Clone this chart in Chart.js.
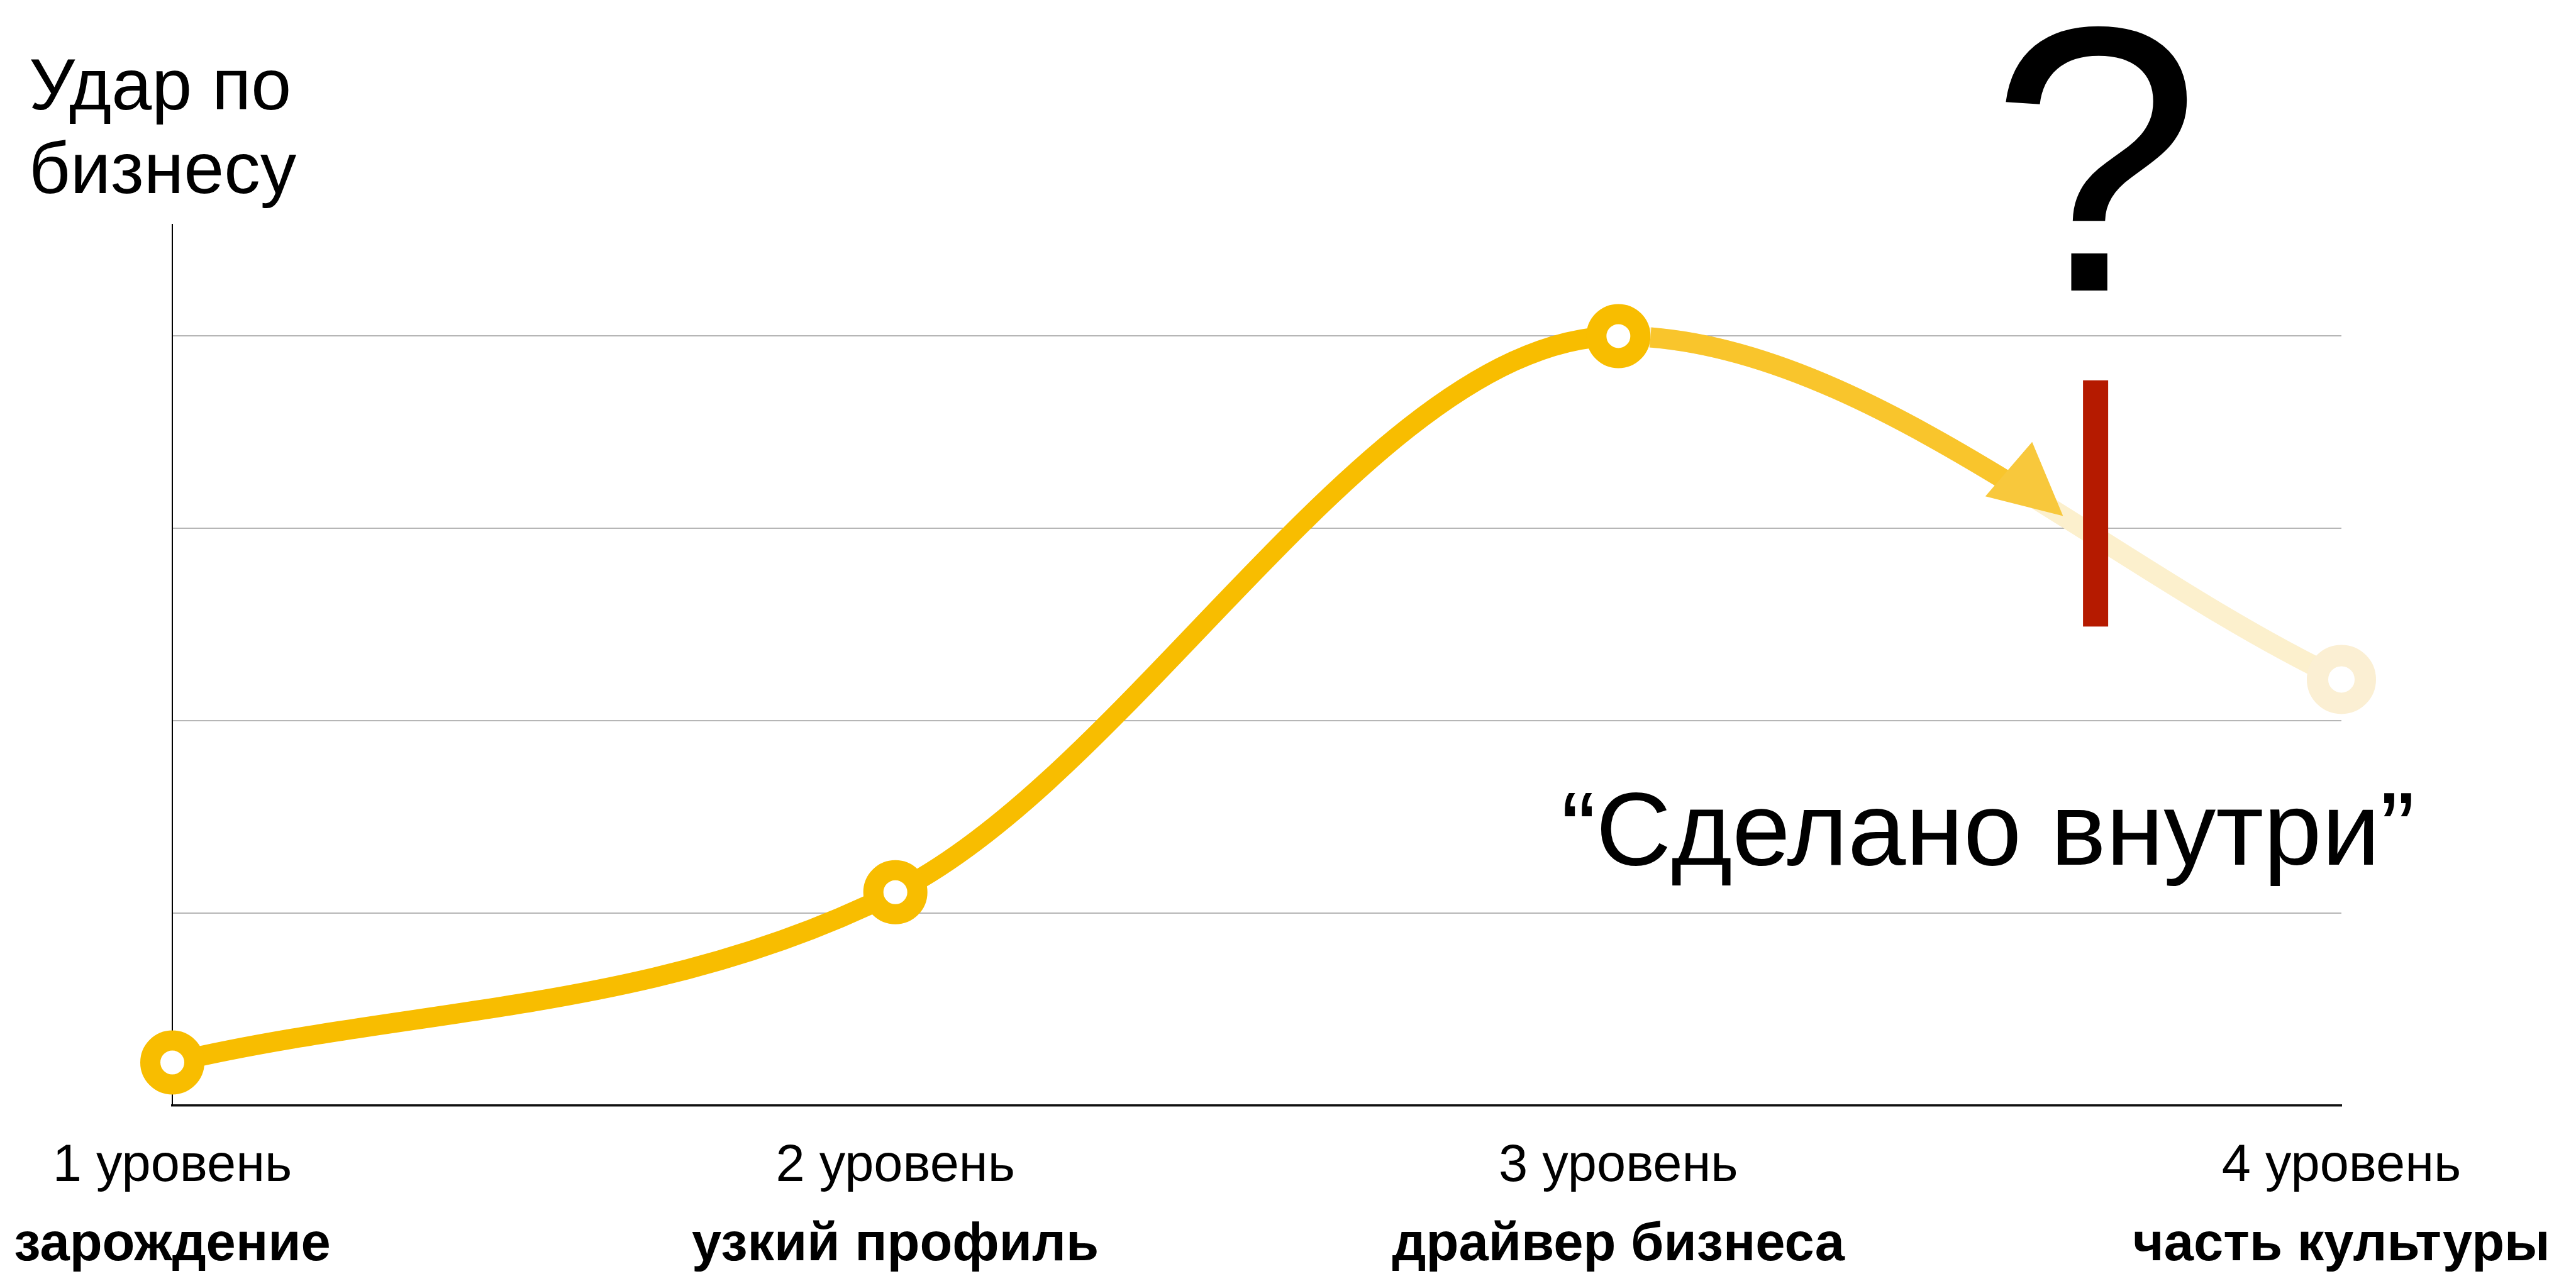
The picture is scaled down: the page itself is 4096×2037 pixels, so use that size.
<!DOCTYPE html>
<html>
<head>
<meta charset="utf-8">
<script src="https://cdn.jsdelivr.net/npm/chart.js@4.4.1/dist/chart.umd.min.js"></script>
<style>
  html, body { margin: 0; padding: 0; background: #fff; overflow: hidden; }
</style>
</head>
<body>
<canvas id="chart" width="4096" height="2037"></canvas>
<script>
// --- DATA ---
const levelLabels = ['1 уровень', '2 уровень', '3 уровень', '4 уровень'];
const stageNames = ['зарождение', 'узкий профиль', 'драйвер бизнеса', 'часть культуры'];
const impactValues = [0.224, 1.109, 4.0, 2.215];
const yMax = 4.58;

const peakIndex = 2;          // the segment after this point fades out
const arrowTipX = 2.615;      // where the arrow along the falling curve ends (category index)
const barX = 2.66;            // red "stop" bar
const barRange = [2.49, 3.77];

const titleLines = ['Удар по', 'бизнесу'];
const quoteText = '“Сделано внутри”';

// --- STYLE ---
const FONT = '"Liberation Sans", Arial, Helvetica, sans-serif';
const GOLD = '#F8BD00';
const PALE = '#FCF0CD';
const ARROW = '#F9C52C';
const ARROW_HEAD = '#F8C83C';
const RED = '#B51A00';

// small bezier helpers for the arrow drawn along the library's own curve
function lerp(p, q, t) { return { x: p.x + (q.x - p.x) * t, y: p.y + (q.y - p.y) * t }; }
function splitAt(c, t) {
    const [p0, p1, p2, p3] = c;
    const a = lerp(p0, p1, t), b = lerp(p1, p2, t), d = lerp(p2, p3, t);
    const e = lerp(a, b, t), f = lerp(b, d, t), g = lerp(e, f, t);
    return [[p0, a, e, g], [g, f, d, p3]];
}
function pointAt(c, t) { return splitAt(c, t)[0][3]; }
function subCurve(c, t0, t1) { return splitAt(splitAt(c, t1)[0], t0 / t1)[1]; }
function solveT(fn, target) {
    // bisection, fn increasing in t
    let lo = 0, hi = 1;
    for (let i = 0; i < 40; i++) {
        const mid = (lo + hi) / 2;
        if (fn(mid) < target) lo = mid; else hi = mid;
    }
    return (lo + hi) / 2;
}

const annotations = {
    id: 'annotations',
    afterDatasetsDraw(chart) {
        const { ctx, scales: { x, y } } = chart;
        const pts = chart.getDatasetMeta(0).data;
        const a = pts[peakIndex], b = pts[peakIndex + 1];
        const curve = [{ x: a.x, y: a.y }, { x: a.cp2x, y: a.cp2y }, { x: b.cp1x, y: b.cp1y }, { x: b.x, y: b.y }];

        const ds = chart.data.datasets[0];
        const outerR = ds.pointRadius[peakIndex] + ds.pointBorderWidth[peakIndex] / 2;
        const tStart = solveT(t => Math.hypot(pointAt(curve, t).x - a.x, pointAt(curve, t).y - a.y), outerR);
        const tTip = solveT(t => pointAt(curve, t).x, x.getPixelForValue(arrowTipX));

        // arrow head geometry
        const tip = pointAt(curve, tTip);
        const prev = pointAt(curve, tTip - 0.01);
        const ang = Math.atan2(tip.y - prev.y, tip.x - prev.x) + 0.15;
        const headLen = 114, headHalf = 57;
        const ux = Math.cos(ang), uy = Math.sin(ang);
        const base = { x: tip.x - ux * headLen, y: tip.y - uy * headLen };

        // shaft stops inside the head
        const tEnd = solveT(t => pointAt(curve, t).x, base.x + ux * 30);
        const shaft = subCurve(curve, tStart, tEnd);
        ctx.save();
        ctx.strokeStyle = ARROW;
        ctx.lineWidth = ds.borderWidth;
        ctx.lineCap = 'butt';
        ctx.beginPath();
        ctx.moveTo(shaft[0].x, shaft[0].y);
        ctx.bezierCurveTo(shaft[1].x, shaft[1].y, shaft[2].x, shaft[2].y, shaft[3].x, shaft[3].y);
        ctx.stroke();

        ctx.fillStyle = ARROW_HEAD;
        ctx.beginPath();
        ctx.moveTo(tip.x, tip.y);
        ctx.lineTo(base.x - uy * headHalf, base.y + ux * headHalf);
        ctx.lineTo(base.x + uy * headHalf, base.y - ux * headHalf);
        ctx.closePath();
        ctx.fill();

        // red bar
        const bx = x.getPixelForValue(barX);
        const top = y.getPixelForValue(barRange[1]);
        const bottom = y.getPixelForValue(barRange[0]);
        ctx.fillStyle = RED;
        ctx.fillRect(bx - 20, top, 40, bottom - top);
        ctx.restore();
    },
    afterDraw(chart) {
        const { ctx, scales: { x } } = chart;
        ctx.save();
        ctx.fillStyle = '#000';
        ctx.textBaseline = 'alphabetic';

        ctx.textAlign = 'left';
        ctx.font = '115px ' + FONT;
        ctx.fillText(titleLines[0], 46, 174);
        ctx.fillText(titleLines[1], 46, 307);

        ctx.textAlign = 'center';
        ctx.font = '602px ' + FONT;
        ctx.fillText('?', x.getPixelForValue(barX), 462);

        ctx.font = '166px ' + FONT;
        ctx.fillText(quoteText, 3161, 1375);
        ctx.restore();
    }
};

const ctx = document.getElementById('chart').getContext('2d');
const chart = new Chart(ctx, {
    type: 'line',
    data: {
        labels: levelLabels,
        datasets: [{
            data: impactValues,
            borderColor: GOLD,
            borderWidth: 32,
            cubicInterpolationMode: 'monotone',
            segment: {
                borderColor: c => c.p0DataIndex >= peakIndex ? PALE : GOLD
            },
            pointRadius: [35, 35, 35, 38],
            pointHoverRadius: [35, 35, 35, 38],
            pointBorderWidth: [32, 32, 32, 34],
            pointBackgroundColor: '#fff',
            pointBorderColor: impactValues.map((v, i) => i > peakIndex ? '#FBEFD3' : GOLD),
            fill: false,
            clip: false
        }]
    },
    options: {
        responsive: false,
        animation: false,
        events: [],
        layout: { padding: { left: 274, right: 373, top: 357, bottom: 0 } },
        plugins: { legend: { display: false }, tooltip: { enabled: false } },
        scales: {
            x: {
                type: 'category',
                grid: { display: false, drawTicks: false },
                border: { color: '#111', width: 3.5 },
                ticks: { color: '#000', font: { family: FONT, size: 83 }, padding: 47, maxRotation: 0, autoSkip: false },
                afterFit: s => { s.height = 162; }
            },
            x2: {
                type: 'category',
                position: 'bottom',
                labels: stageNames,
                grid: { display: false, drawTicks: false },
                border: { display: false },
                ticks: { color: '#000', font: { family: FONT, size: 85, weight: 'bold' }, padding: 10, maxRotation: 0, autoSkip: false },
                afterFit: s => { s.height = 117; }
            },
            y: {
                min: 0,
                max: yMax,
                ticks: { display: false, stepSize: 1 },
                grid: {
                    drawTicks: false,
                    lineWidth: 2,
                    color: c => (c.tick && c.tick.value > 0 && Number.isInteger(c.tick.value)) ? '#B6B6B6' : 'rgba(0,0,0,0)'
                },
                border: { color: '#000', width: 2 }
            }
        }
    },
    plugins: [annotations]
});
</script>
</body>
</html>
